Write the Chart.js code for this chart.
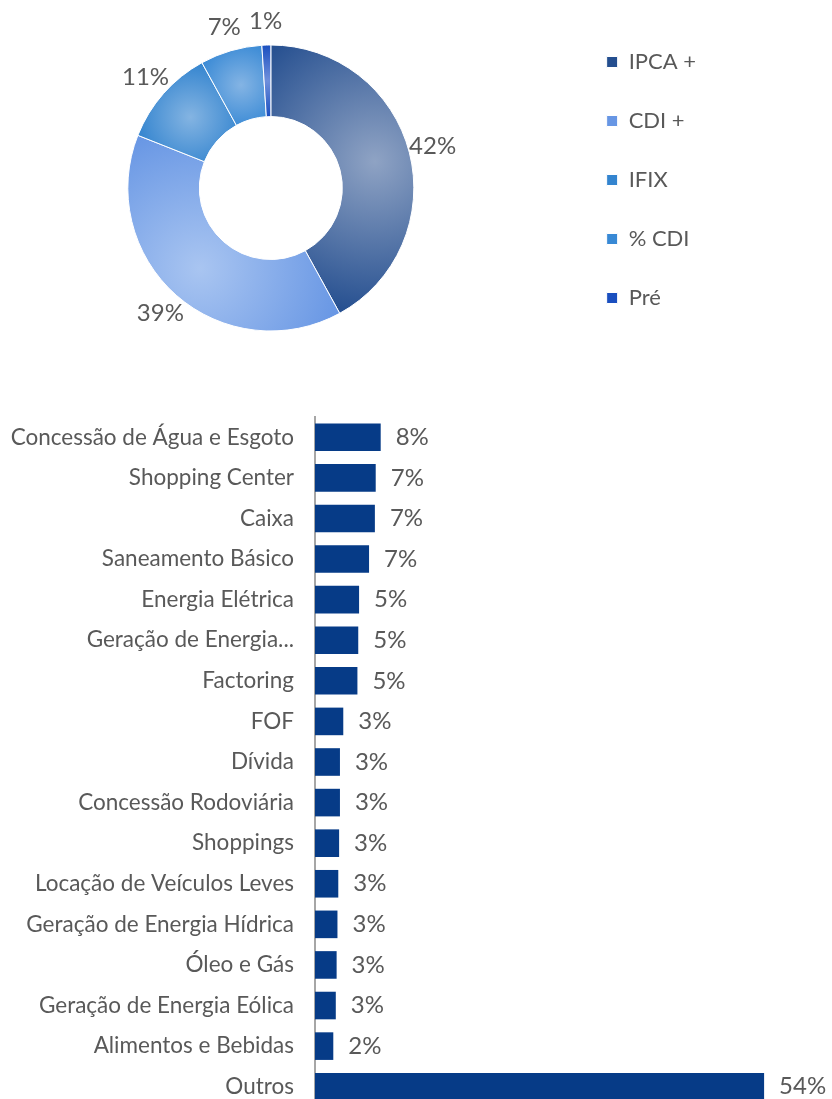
<!DOCTYPE html>
<html>
<head>
<meta charset="utf-8">
<script src="https://cdn.jsdelivr.net/npm/chart.js@4"></script>
<style>
  html, body { margin: 0; padding: 0; background: #fff; overflow: hidden; }
  body { width: 832px; height: 1099px; position: relative; }
  #pieBox { position: absolute; left: -28px; top: 0; width: 860px; height: 376px; }
  #barBox { position: absolute; left: 0; top: 400px; width: 832px; height: 720px; }
</style>
</head>
<body>
<div id="pieBox"><canvas id="pieChart"></canvas></div>
<div id="barBox"><canvas id="barChart"></canvas></div>
<script>
// indexadores (rosca)
const indexLabels = ['IPCA +', 'CDI +', 'IFIX', '% CDI', 'Pré'];
const indexValues = [42, 39, 11, 7, 1];
// cores: borda e centro do degradê
const indexEdge = ['#244e8f', '#6796e4', '#3384cf', '#3889d5', '#1a4fbf'];
const indexCenter = ['#8fa3c4', '#a9c5f1', '#84b4e2', '#84b4e4', '#7090dc'];

// setores (barras)
const sectorLabels = [
  'Concessão de Água e Esgoto', 'Shopping Center', 'Caixa', 'Saneamento Básico',
  'Energia Elétrica', 'Geração de Energia...', 'Factoring', 'FOF', 'Dívida',
  'Concessão Rodoviária', 'Shoppings', 'Locação de Veículos Leves',
  'Geração de Energia Hídrica', 'Óleo e Gás', 'Geração de Energia Eólica',
  'Alimentos e Bebidas', 'Outros'
];
const sectorValues = [7.9, 7.3, 7.2, 6.5, 5.3, 5.2, 5.1, 3.4, 3.0, 3.0, 2.9, 2.8, 2.7, 2.6, 2.5, 2.2, 54];

const textColor = '#595959';
const fontFamily = 'Lato, "Noto Sans", sans-serif';
Chart.defaults.font.family = fontFamily;
Chart.defaults.color = textColor;
Chart.defaults.animation = false;

// degradê radial centrado em cada fatia
function sliceGradient(ctx) {
  const i = ctx.dataIndex;
  const chart = ctx.chart;
  const arc = chart.getDatasetMeta(0).data[i];
  if (!arc || arc.outerRadius == null || isNaN(arc.x)) return indexEdge[i];
  const p = arc.getProps(['x', 'y', 'startAngle', 'endAngle', 'innerRadius', 'outerRadius']);
  const mid = (p.startAngle + p.endAngle) / 2;
  const rm = (p.innerRadius + p.outerRadius) / 2;
  const cx = p.x + Math.cos(mid) * rm;
  const cy = p.y + Math.sin(mid) * rm;
  let far = 0;
  [p.startAngle, p.endAngle].forEach(a => {
    [p.innerRadius, p.outerRadius].forEach(r => {
      const dx = p.x + Math.cos(a) * r - cx;
      const dy = p.y + Math.sin(a) * r - cy;
      far = Math.max(far, Math.sqrt(dx * dx + dy * dy));
    });
  });
  far = Math.max(far, (p.outerRadius - p.innerRadius) / 2);
  const g = chart.ctx.createRadialGradient(cx, cy, 0, cx, cy, far);
  g.addColorStop(0, indexCenter[i]);
  g.addColorStop(1, indexEdge[i]);
  return g;
}

const pieLabelsPlugin = {
  id: 'pieLabels',
  afterDatasetsDraw(chart) {
    const ctx = chart.ctx;
    const meta = chart.getDatasetMeta(0);
    ctx.save();
    ctx.font = '24px ' + fontFamily;
    ctx.fillStyle = textColor;
    ctx.textAlign = 'center';
    ctx.textBaseline = 'middle';
    meta.data.forEach((arc, i) => {
      const mid = (arc.startAngle + arc.endAngle) / 2;
      const r = arc.outerRadius + 24;
      ctx.fillText(Math.round(indexValues[i]) + '%', arc.x + Math.cos(mid) * r, arc.y + Math.sin(mid) * r);
    });
    ctx.restore();
  }
};

const pie = new Chart(document.getElementById('pieChart'), {
  type: 'doughnut',
  data: {
    labels: indexLabels,
    datasets: [{
      data: indexValues,
      backgroundColor: sliceGradient,
      borderColor: '#ffffff',
      borderWidth: 1
    }]
  },
  options: {
    responsive: true,
    maintainAspectRatio: false,
    radius: 143,
    cutout: '50%',
    layout: { padding: { top: 14, bottom: 14, left: 0, right: 126 } },
    plugins: {
      legend: {
        position: 'right',
        align: 'start',
        labels: {
          boxWidth: 11,
          boxHeight: 11,
          padding: 37,
          color: textColor,
          font: { size: 22 }
        }
      },
      tooltip: { enabled: false }
    }
  },
  plugins: [pieLabelsPlugin]
});
pie.update();

const barLabelsPlugin = {
  id: 'barLabels',
  afterDatasetsDraw(chart) {
    const ctx = chart.ctx;
    const meta = chart.getDatasetMeta(0);
    ctx.save();
    ctx.font = '24px ' + fontFamily;
    ctx.fillStyle = textColor;
    ctx.textAlign = 'left';
    ctx.textBaseline = 'middle';
    meta.data.forEach((bar, i) => {
      ctx.fillText(Math.round(sectorValues[i]) + '%', bar.x + 15, bar.y);
    });
    ctx.restore();
  }
};

new Chart(document.getElementById('barChart'), {
  type: 'bar',
  data: {
    labels: sectorLabels,
    datasets: [{
      data: sectorValues,
      backgroundColor: '#063b87',
      categoryPercentage: 1,
      barPercentage: 0.68
    }]
  },
  options: {
    indexAxis: 'y',
    responsive: true,
    maintainAspectRatio: false,
    layout: { padding: { top: 17, bottom: 13, left: 0, right: 18 } },
    scales: {
      x: { display: false, min: 0, max: 60 },
      y: {
        afterFit(scale) {
          scale.width = 315;
          scale.paddingTop = 0;
          scale.paddingBottom = 0;
        },
        grid: { display: false, drawTicks: false },
        border: { display: true, color: '#a6a6a6', width: 2 },
        ticks: { padding: 21, color: textColor, font: { size: 22.5 } }
      }
    },
    plugins: {
      legend: { display: false },
      tooltip: { enabled: false }
    }
  },
  plugins: [barLabelsPlugin]
});
</script>
</body>
</html>
